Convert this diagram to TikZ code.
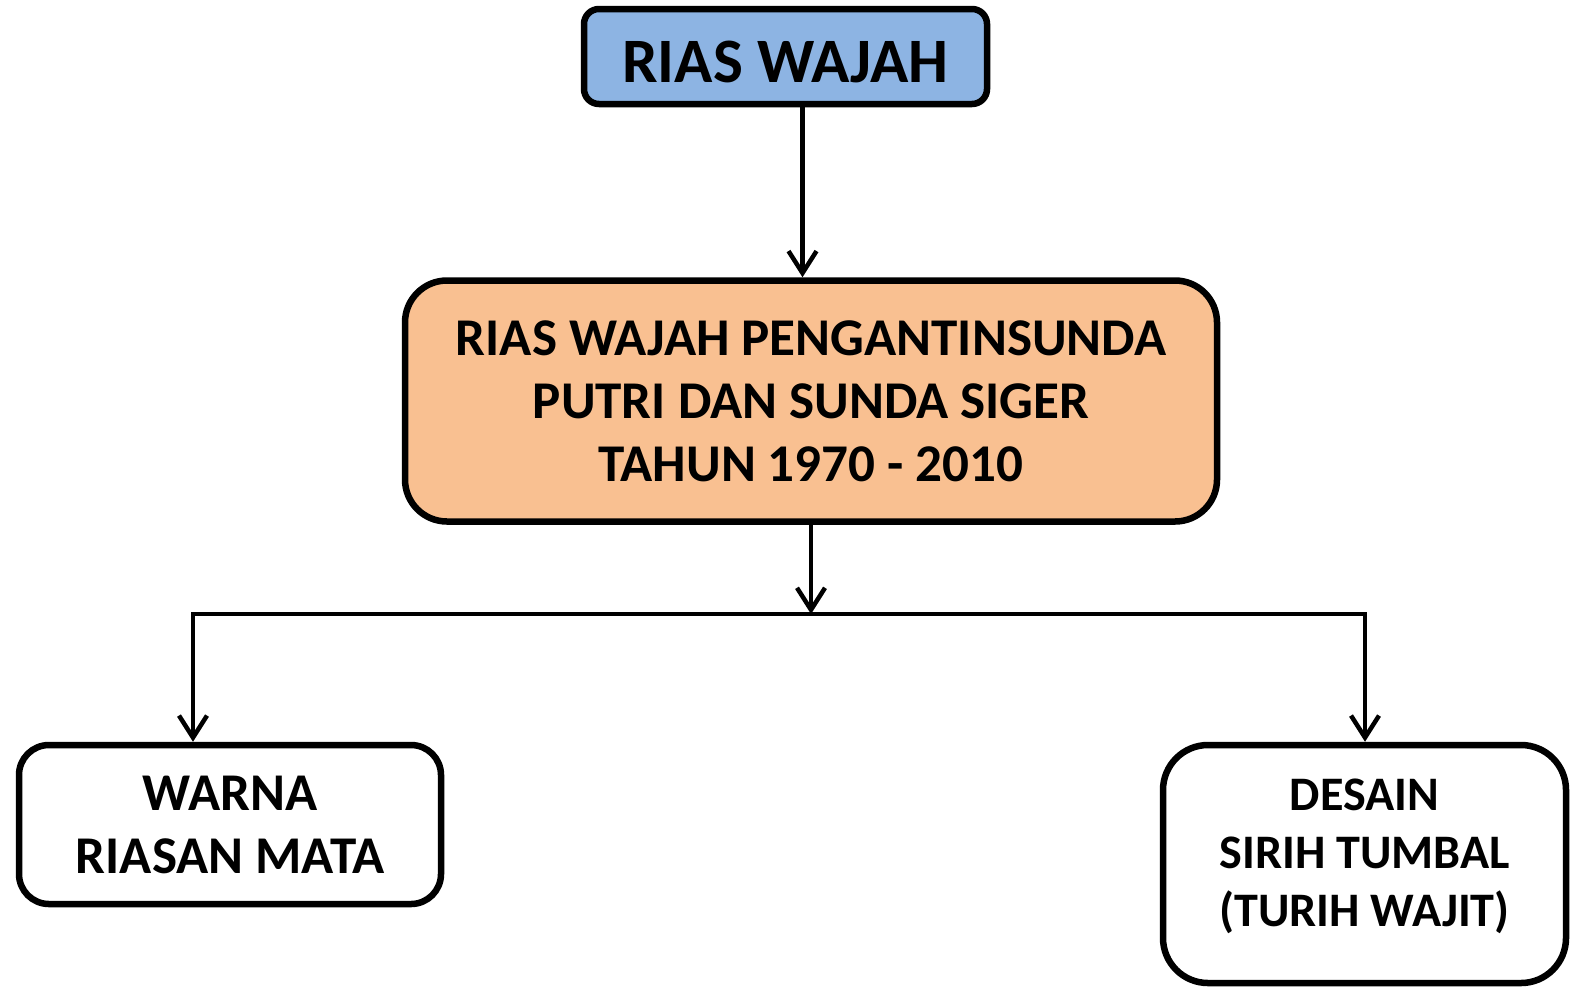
\documentclass[tikz,border=0pt]{standalone}
\usepackage{fontspec}
\setmainfont{Carlito}
\usetikzlibrary{arrows.meta}
\definecolor{boxblue}{RGB}{141,180,227}
\definecolor{boxorange}{RGB}{249,192,145}
\tikzset{
  box/.style={draw, line width=0.065cm, align=center, inner sep=0pt, font=\bfseries},
  arr/.style={line width=0.045cm, -{Straight Barb[length=0.22cm, width=0.28cm]}}
}
\begin{document}
\begin{tikzpicture}
            \useasboundingbox (0,0) rectangle (15.77,-9.87);

            \node[box, fill=boxblue, rounded corners=0.15cm, minimum width=4.03cm, minimum height=0.95cm,
                  font=\bfseries\fontsize{18}{20}\selectfont] (RW) at (7.855,-0.565) {\rule{0pt}{0.52cm}RIAS WAJAH};

            \node[box, fill=boxorange, rounded corners=0.42cm, minimum width=8.12cm, minimum height=2.41cm,
                  font=\bfseries\fontsize{15.1}{17.9}\selectfont] (RP) at (8.11,-4.01)
                  {RIAS WAJAH PENGANTINSUNDA\\PUTRI DAN SUNDA SIGER\\TAHUN 1970 - 2010};

            \node[box, fill=white, rounded corners=0.3cm, minimum width=4.22cm, minimum height=1.59cm,
                  font=\bfseries\fontsize{15.1}{17.9}\selectfont] (WR) at (2.30,-8.245)
                  {WARNA\\RIASAN MATA};

            \node[box, fill=white, rounded corners=0.45cm, minimum width=4.03cm, minimum height=2.38cm,
                  font=\bfseries\fontsize{13.7}{16.5}\selectfont] (DS) at (13.645,-8.64)
                  {DESAIN\\SIRIH TUMBAL\\(TURIH WAJIT)\rule[-0.22cm]{0pt}{0pt}};

            \coordinate (BL) at (1.93,-6.14);
            \coordinate (BR) at (13.65,-6.14);

            \draw[arr] ([xshift=0.17cm]RW.south) -- ([xshift=0.17cm]RW.south |- RP.north);
            \draw[arr] (RP.south) -- (RP.south |- BL);
            \draw[arr] (BR) -- (BL) -- (BL |- WR.north);
            \draw[arr] (BL) -- (BR) -- (BR |- DS.north);
        \end{tikzpicture}
\end{document}
